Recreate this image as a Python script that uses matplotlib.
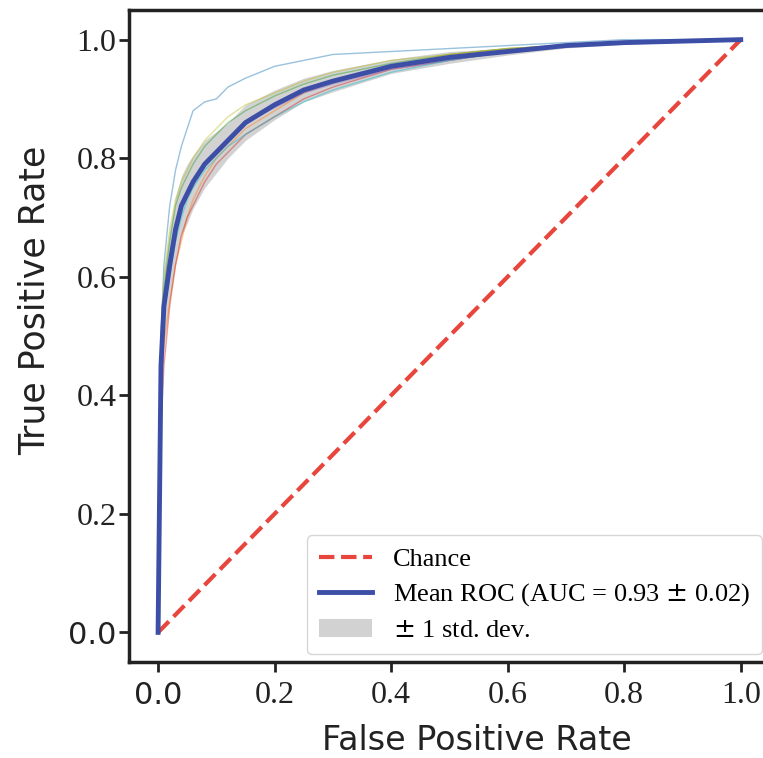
import numpy as np
import matplotlib
matplotlib.use("Agg")
import matplotlib.pyplot as plt

# common false positive grid for the folds
fpr_grid = [0, 0.005, 0.01, 0.02, 0.03, 0.04, 0.05, 0.06, 0.08, 0.1, 0.12,
            0.15, 0.2, 0.25, 0.3, 0.4, 0.5, 0.6, 0.7, 0.8, 1.0]

fold_tprs = [
    [0, 0.50, 0.62, 0.72, 0.78, 0.82, 0.85, 0.88, 0.895, 0.90, 0.92, 0.935, 0.955, 0.965, 0.975, 0.98, 0.985, 0.99, 0.995, 1.0, 1.0],
    [0, 0.40, 0.48, 0.56, 0.62, 0.66, 0.70, 0.73, 0.77, 0.80, 0.82, 0.85, 0.88, 0.91, 0.93, 0.955, 0.975, 0.985, 0.99, 0.995, 1.0],
    [0, 0.48, 0.58, 0.66, 0.72, 0.75, 0.77, 0.79, 0.82, 0.84, 0.86, 0.88, 0.905, 0.925, 0.94, 0.96, 0.975, 0.985, 0.99, 0.995, 1.0],
    [0, 0.35, 0.45, 0.55, 0.62, 0.67, 0.70, 0.72, 0.76, 0.79, 0.81, 0.84, 0.87, 0.90, 0.92, 0.95, 0.965, 0.98, 0.99, 0.995, 1.0],
    [0, 0.46, 0.56, 0.63, 0.69, 0.72, 0.74, 0.76, 0.79, 0.81, 0.83, 0.86, 0.885, 0.91, 0.925, 0.95, 0.965, 0.98, 0.99, 0.995, 1.0],
    [0, 0.50, 0.60, 0.68, 0.73, 0.76, 0.78, 0.80, 0.83, 0.85, 0.87, 0.89, 0.91, 0.93, 0.945, 0.965, 0.975, 0.985, 0.99, 0.995, 1.0],
    [0, 0.44, 0.54, 0.60, 0.66, 0.70, 0.73, 0.75, 0.78, 0.80, 0.82, 0.84, 0.87, 0.895, 0.915, 0.945, 0.965, 0.98, 0.99, 0.995, 1.0],
]
fold_colors = ["tab:blue", "tab:orange", "tab:green", "tab:red",
               "tab:purple", "tab:olive", "tab:cyan"]

mean_tpr = [0, 0.45, 0.55, 0.62, 0.68, 0.72, 0.74, 0.76, 0.79, 0.81, 0.83,
            0.86, 0.89, 0.915, 0.93, 0.955, 0.97, 0.98, 0.99, 0.995, 1.0]
std_tpr = [0, 0.05, 0.06, 0.06, 0.055, 0.05, 0.05, 0.045, 0.04, 0.035, 0.03,
           0.03, 0.025, 0.02, 0.018, 0.012, 0.01, 0.006, 0.004, 0.003, 0]

x_ticks = [0.0, 0.2, 0.4, 0.6, 0.8, 1.0]
tick_labels = ["0.0", "0.2", "0.4", "0.6", "0.8", "1.0"]

fig = plt.figure(figsize=(7.63, 7.58), dpi=100)
ax = fig.add_axes([0.169, 0.1266, 0.84, 0.8602])

for tpr, c in zip(fold_tprs, fold_colors):
    ax.plot(fpr_grid, tpr, color=c, lw=1, alpha=0.45)

ax.plot([0, 1], [0, 1], linestyle="--", lw=3, color="#e8453c", label="Chance")

mean = np.array(mean_tpr)
std = np.array(std_tpr)
ax.plot(fpr_grid, mean, color="#3c4ea6", lw=3.5,
        label=r"Mean ROC (AUC = 0.93 $\pm$ 0.02)")
ax.fill_between(fpr_grid, np.maximum(mean - std, 0), np.minimum(mean + std, 1),
                color="grey", alpha=0.35, lw=0, label=r"$\pm$ 1 std. dev.")

ax.set_xlim(-0.05, 1.05)
ax.set_ylim(-0.05, 1.05)
ax.set_xticks(x_ticks)
ax.set_yticks(x_ticks)
ax.set_xticklabels(tick_labels)
ax.set_yticklabels(tick_labels)

# tick labels are serif, except the 0.0 ones
for lab in ax.get_xticklabels() + ax.get_yticklabels():
    if lab.get_text() == "0.0":
        lab.set_fontfamily("DejaVu Sans")
        lab.set_fontsize(22)
    else:
        lab.set_fontfamily("Liberation Serif")
        lab.set_fontsize(23)

ax.tick_params(length=7.5, width=2, colors="#222222")
ax.tick_params(axis="x", pad=6)
ax.tick_params(axis="y", pad=1.5)
for s in ax.spines.values():
    s.set_linewidth(2.5)
    s.set_color("#222222")

ax.set_xlabel("False Positive Rate", fontsize=24, family="DejaVu Sans",
              color="#222222")
ax.set_ylabel("True Positive Rate", fontsize=25, family="DejaVu Sans",
              color="#222222")
# labels sit off-centre in the original
ax.xaxis.set_label_coords(0.543, -0.095)
ax.yaxis.set_label_coords(-0.12, 0.554)

leg = ax.legend(loc="lower right", prop={"family": "Liberation Serif", "size": 19},
                handlelength=2.0, borderpad=0.45, labelspacing=0.4,
                borderaxespad=0.3, handletextpad=0.8)
leg.get_frame().set_edgecolor("#cccccc")

fig.savefig("out.png", dpi=100)
